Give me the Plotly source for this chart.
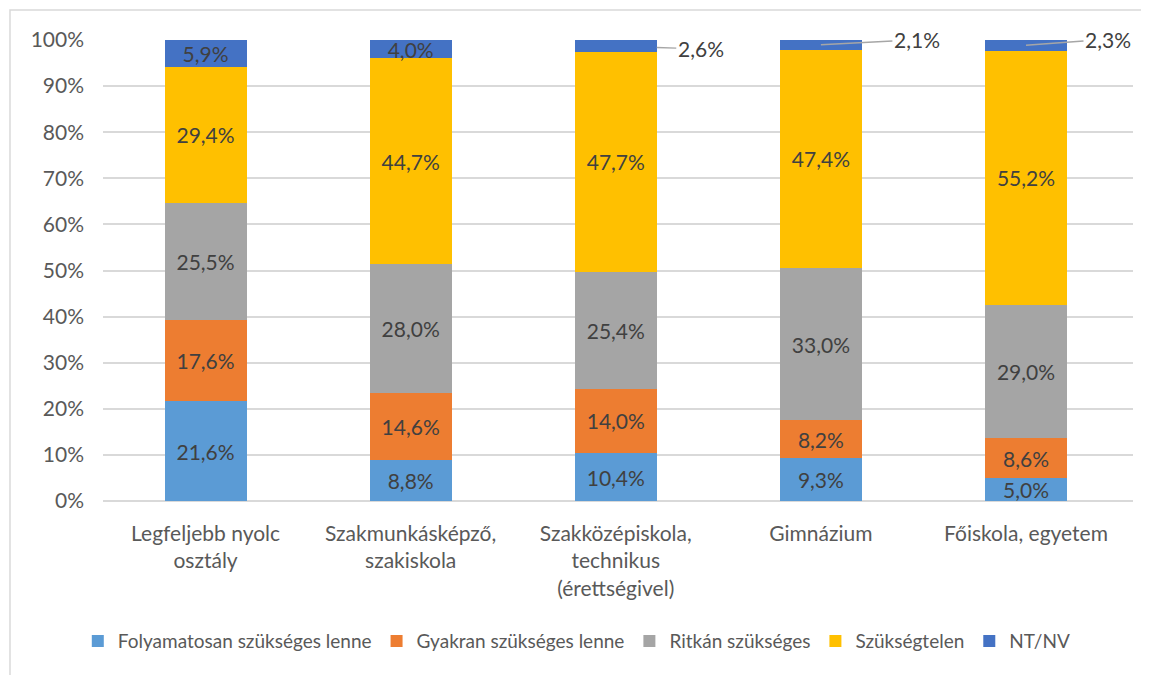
import plotly.graph_objects as go

categories = ['Legfeljebb nyolc<br>osztály',
              'Szakmunkásképző,<br>szakiskola',
              'Szakközépiskola,<br>technikus<br>(érettségivel)',
              'Gimnázium',
              'Főiskola, egyetem']

folyamatosan = [21.6, 8.8, 10.4, 9.3, 5.0]
gyakran = [17.6, 14.6, 14.0, 8.2, 8.6]
ritkan = [25.5, 28.0, 25.4, 33.0, 29.0]
szuksegtelen = [29.4, 44.7, 47.7, 47.4, 55.2]
nt_nv = [5.9, 4.0, 2.6, 2.1, 2.3]

series = [('Folyamatosan szükséges lenne', folyamatosan, '#5B9BD5'),
          ('Gyakran szükséges lenne', gyakran, '#ED7D31'),
          ('Ritkán szükséges', ritkan, '#A5A5A5'),
          ('Szükségtelen', szuksegtelen, '#FFC000'),
          ('NT/NV', nt_nv, '#4472C4')]


def fmt(v):
    return f'{v:.1f}'.replace('.', ',') + '%'


font = 'Lato, Carlito, Calibri, sans-serif'
fs = 21

data = []
for name, vals, color in series:
    inside = [fmt(v) if not (name == 'NT/NV' and i >= 2) else '' for i, v in enumerate(vals)]
    data.append(go.Bar(x=categories, y=vals, name=name,
                       marker=dict(color=color, line=dict(width=0)),
                       text=inside, textposition='inside',
                       insidetextanchor='middle',
                       textfont=dict(color='#404040', size=fs, family=font),
                       constraintext='none', cliponaxis=False))

# outside labels for the small NT/NV values (label offset in px, leader standoff)
offsets = {2: (85, 3, 41), 3: (96, -5, 0), 4: (82, -6, 0)}
annotations = []
for i, (ax, ay, stand) in offsets.items():
    total = folyamatosan[i] + gyakran[i] + ritkan[i] + szuksegtelen[i] + nt_nv[i]
    annotations.append(dict(x=categories[i], y=100 - nt_nv[i] / 2 * 100 / total,
                            xref='x', yref='y', text=fmt(nt_nv[i]),
                            showarrow=True, arrowhead=0, arrowwidth=1.5,
                            arrowcolor='#A6A6A6', ax=ax, ay=ay, standoff=stand,
                            font=dict(color='#404040', size=fs, family=font)))

layout = go.Layout(barmode='stack', barnorm='percent', bargap=0.6,
                   width=1149, height=675,
                   margin=dict(l=95, r=24, t=32, b=182, autoexpand=False),
                   paper_bgcolor='white', plot_bgcolor='white',
                   font=dict(family=font, size=fs, color='#595959'),
                   xaxis=dict(showgrid=False, showline=False, ticks='',
                              ticklabelstandoff=18,
                              tickfont=dict(size=fs, color='#595959')),
                   yaxis=dict(range=[0, 100], dtick=10, ticksuffix='%',
                              gridcolor='#D9D9D9', gridwidth=1.5,
                              zeroline=True, zerolinecolor='#D9D9D9',
                              zerolinewidth=1.5, showline=False,
                              ticklabelstandoff=18,
                              tickfont=dict(size=fs, color='#595959')),
                   legend=dict(orientation='h', x=0.46, xanchor='center',
                               y=-0.304, yanchor='middle',
                               font=dict(size=19, color='#595959'),
                               itemwidth=30, traceorder='normal'),
                   annotations=annotations,
                   shapes=[dict(type='rect', xref='paper', yref='paper',
                                x0=-0.0903, x1=1.2, y0=-0.5, y1=1.065,
                                line=dict(color='#D9D9D9', width=1.5),
                                layer='below')])

fig = go.Figure(data=data, layout=layout)
fig.write_html('out.html')
